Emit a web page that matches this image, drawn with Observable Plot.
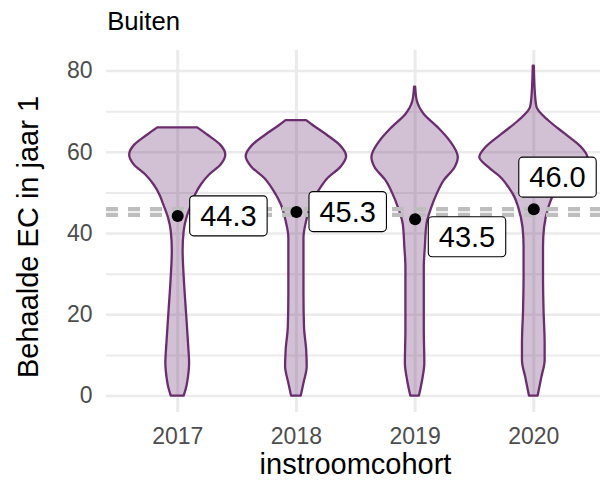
<!DOCTYPE html>
<html>
<head>
<meta charset="utf-8">
<script src="https://cdn.jsdelivr.net/npm/d3@7"></script>
<script src="https://cdn.jsdelivr.net/npm/@observablehq/plot@0.6"></script>
<style>
  html, body { margin: 0; padding: 0; background: #ffffff; }
  svg { display: block; }
</style>
</head>
<body>
<div id="chart"></div>
<script>
// ---------- data ----------
const cohorts = [2017, 2018, 2019, 2020];
const meanEC = [44.3, 45.3, 43.5, 46.0];
const referenceLines = [46.0, 44.6];
const yTicks = [0, 20, 40, 60, 80];
const yMinorTicks = [10, 30, 50, 70];

// violin outlines: EC level and relative density (1 = widest violin)
const ec2017   = [0, 2.3, 4.7, 8, 12.9, 21, 29.2, 35.7, 40.6, 43.8, 47.1, 49.5, 52, 54.4, 56.8, 59.3, 61.7, 64.2, 66];
const dens2017 = [0.12, 0.17, 0.20, 0.22, 0.20, 0.16, 0.12, 0.10, 0.12, 0.17, 0.26, 0.33, 0.44, 0.59, 0.80, 0.89, 0.80, 0.56, 0.37];
const ec2018   = [0, 3.1, 7.2, 11.2, 16.9, 25.1, 33.2, 38.9, 43, 47.1, 50.3, 53.6, 56.4, 58.9, 61.7, 64.2, 66.6, 67.8];
const dens2018 = [0.09, 0.14, 0.20, 0.19, 0.15, 0.14, 0.14, 0.14, 0.19, 0.28, 0.41, 0.59, 0.83, 0.93, 0.81, 0.57, 0.31, 0.19];
const ec2019   = [0, 3.9, 8, 16.2, 24.4, 31.7, 36.6, 42.3, 46.4, 49.7, 53, 56.2, 58.7, 62.7, 66, 69.3, 72.6, 76];
const dens2019 = [0.08, 0.14, 0.18, 0.17, 0.17, 0.17, 0.19, 0.22, 0.31, 0.41, 0.54, 0.74, 0.80, 0.65, 0.43, 0.17, 0.04, 0.01];
const ec2020   = [0, 4.6, 8.7, 12.8, 21, 29.2, 36.6, 41.5, 46.4, 48.9, 51.3, 53.8, 56.2, 58.7, 61.1, 64.4, 67.7, 71, 74.3, 81.2];
const dens2020 = [0.08, 0.15, 0.21, 0.21, 0.19, 0.18, 0.18, 0.20, 0.28, 0.35, 0.46, 0.61, 0.83, 1.0, 0.89, 0.59, 0.28, 0.06, 0.03, 0.01];

// ---------- tables built from the arrays ----------
const outlines = {2017: [ec2017, dens2017], 2018: [ec2018, dens2018], 2019: [ec2019, dens2019], 2020: [ec2020, dens2020]};
const violinRows = cohorts.flatMap(c => outlines[c][0].map((ec, i) => ({cohort: c, ec, dens: outlines[c][1][i]})));
const meanRows = cohorts.map((c, i) => ({cohort: c, mean: meanEC[i]}));

// ---------- layout constants ----------
const HALF = 0.455;               // half width (in cohort units) of the widest violin
const labelOffsets = [[50.7, 0.8], [51.3, 0.6], [51.9, 18.5], [23.7, -31]]; // repelled label positions (px)
const PURPLE = "#6b2d6f";
const FONT = "Liberation Sans, Arial, Helvetica, sans-serif";

const labelMarks = meanRows.map((row, i) =>
  Plot.text([row], {
    x: "cohort", y: "mean", text: d => d.mean.toFixed(1),
    dx: labelOffsets[i][0], dy: labelOffsets[i][1],
    fontSize: 29, fill: "black", textAnchor: "middle", lineAnchor: "middle"
  })
);

const chart = Plot.plot({
  width: 600,
  height: 483,
  marginLeft: 106,
  marginRight: 0,
  marginTop: 50,
  marginBottom: 71,
  x: {domain: [2016.4, 2020.562], axis: null},
  y: {domain: [-4.05, 85.05], axis: null},
  style: {fontFamily: FONT, background: "#ffffff", overflow: "visible"},
  marks: [
    Plot.ruleY(yMinorTicks, {stroke: "#ebebeb", strokeWidth: 2}),
    Plot.ruleY(yTicks, {stroke: "#ebebeb", strokeWidth: 2.5}),
    Plot.ruleX(cohorts, {stroke: "#ebebeb", strokeWidth: 3}),
    Plot.areaX(violinRows, {
      y: "ec",
      x1: d => d.cohort - d.dens * HALF,
      x2: d => d.cohort + d.dens * HALF,
      z: "cohort",
      fill: PURPLE, fillOpacity: 0.3,
      stroke: PURPLE, strokeWidth: 2.3, strokeLinejoin: "round",
      curve: "monotone-y"
    }),
    Plot.ruleY(referenceLines, {stroke: "#bebebe", strokeWidth: 4.2, strokeDasharray: "12,10"}),
    Plot.dot(meanRows, {x: "cohort", y: "mean", r: 6, fill: "black", stroke: "none"}),
    ...labelMarks,
    // y tick labels
    Plot.text(yTicks, {y: d => d, text: d => String(d), frameAnchor: "left", textAnchor: "end",
      lineAnchor: "middle", dx: -14, fontSize: 23, fill: "#4d4d4d"}),
    // x tick labels
    Plot.text(cohorts, {x: d => d, text: d => String(d), frameAnchor: "bottom", textAnchor: "middle",
      lineAnchor: "bottom", dy: 31, fontSize: 23, fill: "#4d4d4d"}),
    // axis titles
    Plot.text(["instroomcohort"], {text: d => d, frameAnchor: "bottom", textAnchor: "middle",
      lineAnchor: "bottom", dx: 2, dy: 61, fontSize: 29, fill: "black"}),
    Plot.text(["Behaalde EC in jaar 1"], {text: d => d, frameAnchor: "left", textAnchor: "middle",
      lineAnchor: "middle", rotate: -90, dx: -77.3, dy: 5.5, fontSize: 29, fill: "black"}),
    // title
    Plot.text(["Buiten"], {text: d => d, frameAnchor: "top-left", textAnchor: "start",
      lineAnchor: "bottom", dx: 0.7, dy: -20.7, fontSize: 25.7, fill: "black"})
  ]
});

document.getElementById("chart").appendChild(chart);

// draw the rounded label boxes behind the value labels
chart.querySelectorAll("text").forEach(t => {
  if (!/^\d+\.\d$/.test(t.textContent.trim())) return;
  const bb = t.getBBox();
  const w = bb.width + 21, h = 40;
  const cx = bb.x + bb.width / 2, cy = bb.y + bb.height / 2 - 0.3;
  const r = document.createElementNS("http://www.w3.org/2000/svg", "rect");
  r.setAttribute("x", cx - w / 2);
  r.setAttribute("y", cy - h / 2);
  r.setAttribute("width", w);
  r.setAttribute("height", h);
  r.setAttribute("rx", 4);
  r.setAttribute("ry", 4);
  r.setAttribute("fill", "white");
  r.setAttribute("stroke", "black");
  r.setAttribute("stroke-width", 1.1);
  if (t.getAttribute("transform")) r.setAttribute("transform", t.getAttribute("transform"));
  t.parentNode.insertBefore(r, t);
});
</script>
</body>
</html>
